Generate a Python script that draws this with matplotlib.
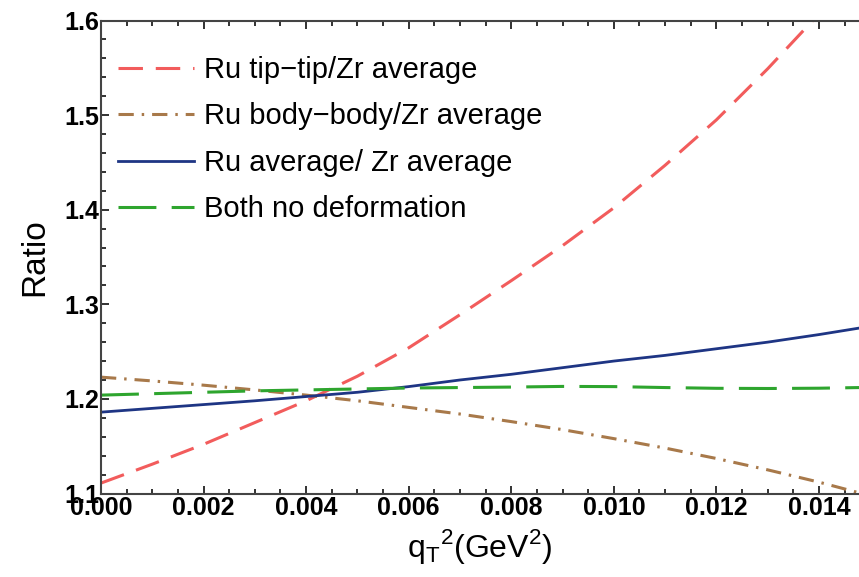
import matplotlib
matplotlib.use("Agg")
import matplotlib.pyplot as plt
from matplotlib.ticker import MultipleLocator, FormatStrFormatter

# ---- data ----
q2 = [0.000, 0.001, 0.002, 0.003, 0.004, 0.005, 0.006, 0.007, 0.008,
      0.009, 0.010, 0.011, 0.012, 0.013, 0.014, 0.0148]
tip_tip = [1.111, 1.131, 1.152, 1.175, 1.198, 1.224, 1.254, 1.289, 1.325,
           1.362, 1.402, 1.447, 1.495, 1.549, 1.607, 1.655]
body_body = [1.223, 1.219, 1.2145, 1.2095, 1.204, 1.198, 1.191, 1.184, 1.176,
             1.1675, 1.158, 1.148, 1.137, 1.125, 1.112, 1.1005]
average = [1.186, 1.190, 1.194, 1.198, 1.2025, 1.207, 1.213, 1.220, 1.226,
           1.233, 1.240, 1.246, 1.253, 1.260, 1.268, 1.275]
no_deform = [1.204, 1.2055, 1.207, 1.2085, 1.2095, 1.2105, 1.2115, 1.212, 1.2125,
             1.2132, 1.213, 1.212, 1.2112, 1.211, 1.2113, 1.212]

labels = ["Ru tip\u2212tip/Zr average", "Ru body\u2212body/Zr average",
          "Ru average/ Zr average", "Both no deformation"]
xticks = [0.000, 0.002, 0.004, 0.006, 0.008, 0.010, 0.012, 0.014]
yticks = [1.1, 1.2, 1.3, 1.4, 1.5, 1.6]

plt.rcParams['font.family'] = ['Liberation Sans', 'DejaVu Sans']

fig = plt.figure(figsize=(8.59, 5.77), dpi=100)
ax = fig.add_axes([101/859, 1 - 493.5/577, 1 - 101/859, (493.5 - 20.5)/577])

ax.plot(q2, tip_tip, color='#F25C5C', lw=2.2, linestyle=(0, (8.0, 4.2)),
        label=labels[0])
ax.plot(q2, body_body, color='#A8794A', lw=2.2,
        linestyle=(0, (5.0, 2.6, 0.8, 2.6)), label=labels[1])
ax.plot(q2, average, color='#1E3584', lw=2.0, linestyle='-', label=labels[2])
ax.plot(q2, no_deform, color='#2EA52E', lw=2.2, linestyle=(0, (12.4, 5.0)),
        label=labels[3])

ax.set_xlim(0.0, 0.01478)
ax.set_ylim(1.1, 1.6)
ax.set_xticks(xticks)
ax.set_yticks(yticks)
ax.xaxis.set_minor_locator(MultipleLocator(0.0005))
ax.yaxis.set_minor_locator(MultipleLocator(0.02))
ax.xaxis.set_major_formatter(FormatStrFormatter('%.3f'))
ax.yaxis.set_major_formatter(FormatStrFormatter('%.1f'))

for s in ['left', 'bottom', 'top']:
    ax.spines[s].set_color('#444444')
    ax.spines[s].set_linewidth(1.5)
ax.spines['right'].set_visible(False)

ax.tick_params(which='both', direction='in', top=True, right=False,
               color='#222222', width=1.3)
ax.tick_params(which='major', length=6)
ax.tick_params(which='minor', length=3.5)
ax.tick_params(axis='both', which='major', labelsize=18, pad=1.5)
for t in ax.get_xticklabels() + ax.get_yticklabels():
    t.set_fontweight('bold')

ax.set_ylabel('Ratio', fontsize=24, labelpad=10)
ax.set_xlabel(r'q$_\mathregular{T}$$^\mathregular{2}$(GeV$^\mathregular{2}$)',
              fontsize=23, labelpad=5)

leg = ax.legend(loc='upper left', bbox_to_anchor=(0.022, 0.925), frameon=False,
                fontsize=21, handlelength=2.6, handletextpad=0.35,
                labelspacing=0.63, borderpad=0, borderaxespad=0)

fig.savefig('out.png', dpi=100)
